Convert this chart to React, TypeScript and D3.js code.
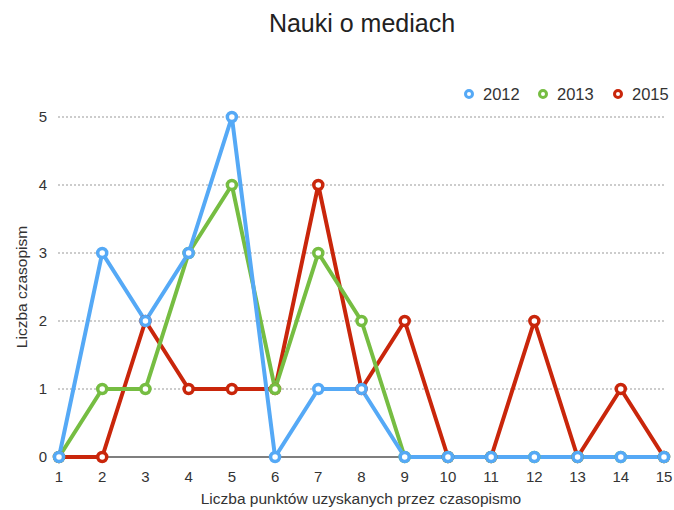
import React from 'react';
import * as d3 from 'd3';

const points = [1, 2, 3, 4, 5, 6, 7, 8, 9, 10, 11, 12, 13, 14, 15];
const years = ['2012', '2013', '2015'];
const values2012 = [0, 3, 2, 3, 5, 0, 1, 1, 0, 0, 0, 0, 0, 0, 0];
const values2013 = [0, 1, 1, 3, 4, 1, 3, 2, 0, 0, 0, 0, 0, 0, 0];
const values2015 = [0, 0, 2, 1, 1, 1, 4, 1, 2, 0, 0, 2, 0, 1, 0];
const yTicks = [0, 1, 2, 3, 4, 5];
const colors = ['#55a9f6', '#76bd42', '#c9260b'];

const W = 674;
const H = 510;
const font = 'Helvetica Neue, Liberation Sans, Arial, sans-serif';

const App = () => {
  const x = d3.scaleLinear().domain([1, 15]).range([59, 664]);
  const y = d3.scaleLinear().domain([0, 5]).range([457, 117]);
  const line = d3.line<number>()
    .x((d, i) => x(points[i]))
    .y(d => y(d));

  const series = [values2012, values2013, values2015];
  // draw 2015 first so 2012 ends up on top
  const order = [2, 1, 0];

  return (
    <svg width={W} height={H} style={{ position: 'absolute', left: 0, top: 0 }}>
      <rect width={W} height={H} fill="#fff" />
      <text x={362} y={32} textAnchor="middle" fontFamily={font} fontSize={25} fill="#222">
        Nauki o mediach
      </text>

      {yTicks.map(t => (
        <g key={t}>
          {t > 0 && (
            <line x1={58} x2={664} y1={y(t)} y2={y(t)} stroke="#999" strokeWidth={1} strokeDasharray="2,2" />
          )}
          <text x={47} y={y(t) + 5} textAnchor="end" fontFamily={font} fontSize={15} fill="#333">{t}</text>
        </g>
      ))}
      <line x1={58} x2={664} y1={y(0)} y2={y(0)} stroke="#555" strokeWidth={1.5} />

      {points.map(p => (
        <text key={p} x={x(p)} y={482} textAnchor="middle" fontFamily={font} fontSize={15} fill="#333">{p}</text>
      ))}

      <text x={361} y={504} textAnchor="middle" fontFamily={font} fontSize={15.5} fill="#333">
        Liczba punktów uzyskanych przez czasopismo
      </text>
      <text transform={`translate(27, 287) rotate(-90)`} textAnchor="middle" fontFamily={font} fontSize={15.5} fill="#333">
        Liczba czasopism
      </text>

      {order.map(i => (
        <path key={'l' + i} d={line(series[i]) || ''} fill="none" stroke={colors[i]} strokeWidth={4} strokeLinejoin="round" />
      ))}
      {order.map(i => (
        <g key={'m' + i}>
          {series[i].map((v, j) => (
            <circle key={j} cx={x(points[j])} cy={y(v)} r={4.5} fill="#fff" stroke={colors[i]} strokeWidth={3.5} />
          ))}
        </g>
      ))}

      {years.map((yr, i) => {
        const lx = [469, 543, 618][i];
        return (
          <g key={yr}>
            <circle cx={lx} cy={94} r={3.5} fill="#fff" stroke={colors[i]} strokeWidth={3} />
            <text x={lx + 14} y={100} fontFamily={font} fontSize={16.5} fill="#333">{yr}</text>
          </g>
        );
      })}
    </svg>
  );
};

export default App;
